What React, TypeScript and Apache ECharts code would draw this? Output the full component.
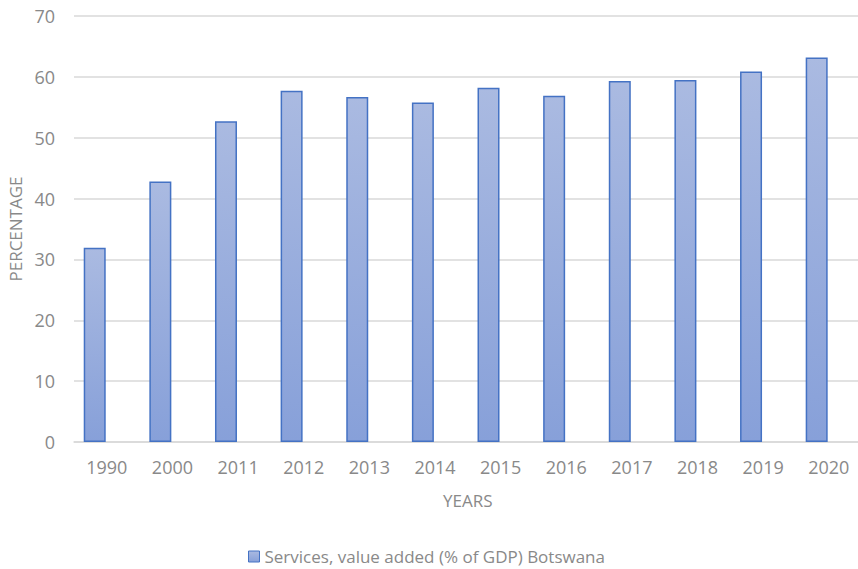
import React, { useEffect, useRef } from "react";
import * as echarts from "echarts";

const categories = ["1990", "2000", "2011", "2012", "2013", "2014", "2015", "2016", "2017", "2018", "2019", "2020"];
const values = [31.9, 42.8, 52.7, 57.7, 56.7, 55.8, 58.2, 56.9, 59.3, 59.5, 60.9, 63.2];
const emptyValues = [null, null, null, null, null, null, null, null, null, null, null, null];
const seriesName = "Services, value added (% of GDP) Botswana";

export default function App() {
  const ref = useRef<HTMLDivElement>(null);
  useEffect(() => {
    document.body.style.margin = "0";
    const chart = echarts.init(ref.current!, null, { renderer: "svg" });
    const font = "Open Sans, Liberation Sans, sans-serif";
    const grey = "#898989";
    const fill = new echarts.graphic.LinearGradient(0, 0, 0, 1, [
      { offset: 0, color: "#aabae1" },
      { offset: 1, color: "#87a0d9" },
    ]);
    chart.setOption({
      animation: false,
      backgroundColor: "#ffffff",
      grid: {
        left: 74,
        right: -3.6,
        top: 16,
        bottom: 127,
        containLabel: false,
        outerBoundsMode: "none",
      },
      legend: {
        top: 543,
        left: 243,
        icon: "rect",
        itemWidth: 11,
        itemHeight: 11,
        itemGap: 4,
        textStyle: { color: grey, fontSize: 17, fontFamily: font },
        data: [{ name: seriesName, itemStyle: { color: fill, borderColor: "#4472c4", borderWidth: 1 } }],
      },
      xAxis: {
        type: "category",
        data: categories,
        name: "YEARS",
        nameLocation: "middle",
        nameGap: 50,
        nameTextStyle: { color: grey, fontSize: 17, fontFamily: font },
        axisLine: { show: true, lineStyle: { color: "#d9d9d9", width: 1.5 } },
        axisTick: { show: false },
        axisLabel: { color: grey, fontSize: 18, fontFamily: font, margin: 16 },
      },
      yAxis: {
        type: "value",
        min: 0,
        max: 70,
        interval: 10,
        name: "PERCENTAGE",
        nameLocation: "middle",
        nameGap: 47,
        nameRotate: 90,
        nameTextStyle: { color: grey, fontSize: 17, fontFamily: font },
        axisLine: { show: false },
        axisTick: { show: false },
        axisLabel: { color: grey, fontSize: 18, fontFamily: font, margin: 19 },
        splitLine: { lineStyle: { color: "#d9d9d9", width: 1.5 } },
      },
      series: [
        {
          name: seriesName,
          type: "bar",
          data: values,
          barWidth: 22,
          barGap: "10%",
          itemStyle: { color: fill, borderColor: "#4472c4", borderWidth: 1.5 },
        },
        {
          name: "spacer",
          type: "bar",
          data: emptyValues,
          barWidth: 22,
          barGap: "10%",
          silent: true,
        },
      ],
    });
    return () => chart.dispose();
  }, []);
  return (
    <div
      ref={ref}
      style={{ position: "absolute", left: 0, top: 0, width: 858, height: 569 }}
    />
  );
}
